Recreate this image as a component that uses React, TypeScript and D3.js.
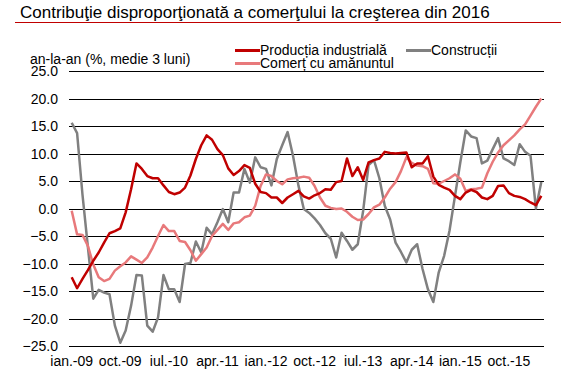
import React, { useEffect, useRef } from 'react';
import * as d3 from 'd3';

// monthly, ian. 2009 - apr. 2016
const monthNames = ['ian.', 'feb.', 'mar.', 'apr.', 'mai', 'iun.', 'iul.', 'aug.', 'sep.', 'oct.', 'nov.', 'dec.'];
const months: string[] = [];
for (let y = 2009; y <= 2016; y++) {
  monthNames.forEach((m) => months.push(`${m}-${String(y).slice(2)}`));
}
const categories = months.slice(0, 88);

const tickLabels = ['ian.-09', 'oct.-09', 'iul.-10', 'apr.-11', 'ian.-12', 'oct.-12', 'iul.-13', 'apr.-14', 'ian.-15', 'oct.-15'];
const yTicks = [25, 20, 15, 10, 5, 0, -5, -10, -15, -20, -25];

const productie = [
  -12.5, -14.5, -12.8, -11.2, -9.5, -8.0, -6.2, -4.5, -4.1, -3.6,
  -0.7, 3.5, 8.2, 7.2, 5.9, 5.5, 5.5, 4.2, 3.0, 2.6,
  2.9, 3.8, 6.0, 9.0, 11.5, 13.3, 12.5, 10.8, 9.7, 7.3,
  6.1, 6.8, 7.9, 7.4, 4.5, 3.0, 2.8, 2.0, 2.0, 1.0,
  2.0, 2.6, 3.2, 2.2, 1.8, 2.4, 2.8, 3.5, 3.4, 4.8,
  5.0, 9.1, 5.9, 7.5, 5.2, 8.4, 8.8, 9.1, 10.3, 10.1,
  10.0, 10.1, 10.2, 7.5, 8.2, 8.2, 9.5, 5.8, 4.3, 3.8,
  3.4, 2.3, 1.7, 2.9, 3.4, 3.0, 2.0, 1.7, 2.3, 4.1,
  4.2, 2.8, 2.3, 2.1, 1.7, 1.1, 0.6, 2.3,
];

const constructii = [
  15.6, 13.7, 2.5, -7.0, -16.4, -14.8, -15.3, -15.6, -21.3, -24.4,
  -22.2, -17.7, -12.1, -12.2, -21.3, -22.4, -19.8, -12.1, -14.7, -14.7,
  -17.0, -10.1, -9.9, -6.0, -8.0, -3.5, -4.7, -2.5, -0.1, -2.5,
  2.9, 2.9, 7.2, 4.7, 9.3, 7.5, 7.2, 4.2, 9.0, 11.5,
  13.9, 9.6, 4.2, -0.1, -0.8, -1.8, -3.0, -4.5, -5.5, -8.9,
  -4.4, -5.9, -7.5, -6.5, -0.4, 7.9, 8.8, 5.5, 0.5, -2.0,
  -6.2, -7.9, -9.8, -7.5, -6.5, -11.0, -14.7, -17.0, -11.6, -8.6,
  -4.0, 2.2, 8.4, 14.2, 13.1, 12.8, 8.2, 8.7, 10.8, 12.8,
  9.1, 8.6, 7.9, 11.7, 10.3, 9.6, 0.0, 4.8,
];

const comert = [
  -0.4, -4.7, -4.8, -6.8, -10.2, -12.5, -13.2, -12.8, -11.3, -10.5,
  -9.8, -8.7, -9.3, -9.9, -8.9, -7.1, -5.0, -3.0, -4.1, -4.1,
  -5.9, -6.1, -7.6, -9.5, -8.3, -7.1, -5.0, -3.9, -2.8, -3.9,
  -2.7, -2.5, -1.6, -1.3, 0.5, 4.1, 6.2, 5.9, 5.0, 4.4,
  5.3, 5.5, 5.6, 5.8, 5.6, 4.1, 2.0, 0.5, 0.1, -0.1,
  0.0, -0.6, -1.5, -2.1, -2.0, -1.0, 0.2, 0.7, 2.0, 3.6,
  4.8, 6.8, 9.3, 8.3, 7.8, 7.7, 7.2, 4.6, 4.5, 5.0,
  5.5, 6.2, 5.4, 3.2, 3.5, 3.6, 3.8, 6.4, 8.5, 10.2,
  11.5, 12.4, 13.3, 14.4, 15.3, 16.9, 18.5, 20.0,
];

const series = [
  { name: 'Producția industrială', values: productie, color: '#C00000' },
  { name: 'Construcții', values: constructii, color: '#808080' },
  { name: 'Comerț cu amănuntul', values: comert, color: '#E8797B' },
];

const width = 561;
const height = 384;
const margin = { left: 69, right: 17, top: 71, bottom: 38 };
const font = '"Liberation Sans", Arial, sans-serif';
const small = 14;

export default function App() {
  const svgRef = useRef<SVGSVGElement | null>(null);

  useEffect(() => {
    if (!svgRef.current) return;
    const svg = d3.select(svgRef.current);
    svg.selectAll('*').remove();

    const x = d3
      .scaleBand<string>()
      .domain(categories)
      .range([margin.left, width - margin.right]);
    const cx = (c: string) => (x(c) || 0) + x.bandwidth() / 2;

    const y = d3
      .scaleLinear()
      .domain([-25, 25])
      .range([height - margin.bottom, margin.top]);

    // title + rule
    svg
      .append('text')
      .attr('x', 20)
      .attr('y', 17.5)
      .attr('font-size', 17)
      .attr('fill', '#000')
      .text('Contribuţie disproporţionată a comerţului la creşterea din 2016');
    svg
      .append('line')
      .attr('x1', 15)
      .attr('x2', width)
      .attr('y1', 22.5)
      .attr('y2', 22.5)
      .attr('stroke', '#C00000')
      .attr('stroke-width', 1);

    svg
      .append('text')
      .attr('x', 30)
      .attr('y', 64)
      .attr('font-size', small)
      .text('an-la-an (%, medie 3 luni)');

    // grid + y labels
    const grid = svg.append('g');
    grid
      .selectAll('line')
      .data(yTicks)
      .enter()
      .append('line')
      .attr('x1', margin.left)
      .attr('x2', width - margin.right)
      .attr('y1', (d) => Math.round(y(d)) + 0.5)
      .attr('y2', (d) => Math.round(y(d)) + 0.5)
      .attr('stroke', '#000')
      .attr('stroke-width', 1);
    grid
      .selectAll('text')
      .data(yTicks)
      .enter()
      .append('text')
      .attr('x', 58)
      .attr('y', (d) => y(d))
      .attr('dy', '0.38em')
      .attr('text-anchor', 'end')
      .attr('font-size', small)
      .text((d) => d3.format('.1f')(d));

    // x labels
    svg
      .append('g')
      .selectAll('text')
      .data(tickLabels)
      .enter()
      .append('text')
      .attr('x', (d) => cx(d))
      .attr('y', 366)
      .attr('text-anchor', 'middle')
      .attr('font-size', small)
      .text((d) => d);

    const line = d3
      .line<number>()
      .x((_, i) => cx(categories[i]))
      .y((d) => y(d));

    // construction first, then retail, industry on top
    const order = [1, 2, 0];
    order.forEach((k) => {
      const s = series[k];
      svg
        .append('path')
        .attr('d', line(s.values) || '')
        .attr('fill', 'none')
        .attr('stroke', s.color)
        .attr('stroke-width', 2.5)
        .attr('stroke-linejoin', 'round');
    });

    // legend
    const legendPos = [
      { x: 235, y: 50.5 },
      { x: 406, y: 50.5 },
      { x: 235, y: 63.5 },
    ];
    series.forEach((s, i) => {
      const p = legendPos[i];
      svg
        .append('line')
        .attr('x1', p.x)
        .attr('x2', p.x + 25)
        .attr('y1', p.y)
        .attr('y2', p.y)
        .attr('stroke', s.color)
        .attr('stroke-width', 3);
      svg
        .append('text')
        .attr('x', p.x + 25)
        .attr('y', p.y + 4.5)
        .attr('font-size', small)
        .text(s.name);
    });
  }, []);

  return (
    <svg
      ref={svgRef}
      width={width}
      height={height}
      style={{ position: 'absolute', left: 0, top: 0, background: '#fff', fontFamily: font }}
    />
  );
}
